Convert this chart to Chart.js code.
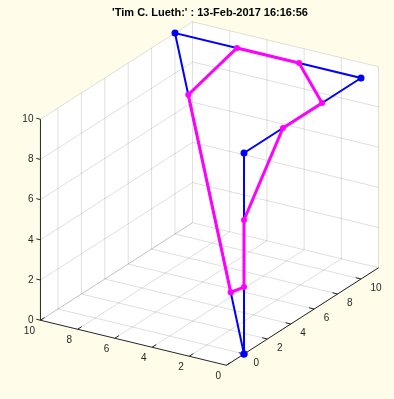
<!DOCTYPE html>
<html lang="en">
<head>
    <meta charset="UTF-8">
    <title>3D polyline</title>
    <script src="https://cdn.jsdelivr.net/npm/chart.js"></script>
    <style>
        body { margin: 0; background: #fffde9; }
        canvas { display: block; }
    </style>
</head>
<body>
    <canvas id="plot3d" width="394" height="399"></canvas>

    <script>
        // Data (3D points)
        const titleText = "'Tim C. Lueth:' : 13-Feb-2017 16:16:56";

        const blueX = [0, 0, 0, 10, 0];
        const blueY = [0, 0, 10, 10, 0];
        const blueZ = [0, 10, 10, 10, 0];

        const magentaX = [1.92, 0, 0, 0, 0, 3.33, 6.67, 8.08, 1.92];
        const magentaY = [1.92, 0, 0, 3.33, 6.67, 10, 10, 8.08, 1.92];
        const magentaZ = [1.92, 3.33, 6.67, 10, 10, 10, 10, 8.08, 1.92];

        const xTicks = [0, 2, 4, 6, 8, 10];
        const yTicks = [0, 2, 4, 6, 8, 10];
        const zTicks = [0, 2, 4, 6, 8, 10];

        const xLim = [0, 10];
        const yLim = [-1.5, 11.5];
        const zLim = [0, 10];

        // view: screen offset per data unit (px, up is positive)
        const ex = [-18.6, 4.5];
        const ey = [11.7, 7.5];
        const ez = [0, 20.1];

        function proj(x, y, z) {
            return {
                x: x * ex[0] + y * ey[0] + z * ez[0],
                y: x * ex[1] + y * ey[1] + z * ez[1]
            };
        }

        function path3(xs, ys, zs) {
            return xs.map((x, i) => proj(x, ys[i], zs[i]));
        }

        // join many segments into one dataset, null point breaks the line
        function segments(list) {
            const out = [];
            list.forEach(s => {
                out.push(proj(s[0], s[1], s[2]));
                out.push(proj(s[3], s[4], s[5]));
                out.push({ x: null, y: null });
            });
            return out;
        }

        const gridSegs = [];
        xTicks.forEach(t => {
            gridSegs.push([t, yLim[0], zLim[0], t, yLim[1], zLim[0]]);      // floor
            gridSegs.push([t, yLim[1], zLim[0], t, yLim[1], zLim[1]]);      // back right wall
        });
        yTicks.forEach(t => {
            gridSegs.push([xLim[0], t, zLim[0], xLim[1], t, zLim[0]]);      // floor
            gridSegs.push([xLim[1], t, zLim[0], xLim[1], t, zLim[1]]);      // back left wall
        });
        zTicks.forEach(t => {
            gridSegs.push([xLim[1], yLim[0], t, xLim[1], yLim[1], t]);      // left wall
            gridSegs.push([xLim[0], yLim[1], t, xLim[1], yLim[1], t]);      // right wall
        });

        const axisSegs = [
            [xLim[0], yLim[0], zLim[0], xLim[1], yLim[0], zLim[0]],
            [xLim[0], yLim[0], zLim[0], xLim[0], yLim[1], zLim[0]],
            [xLim[1], yLim[0], zLim[0], xLim[1], yLim[0], zLim[1]]
        ];
        xTicks.forEach(t => axisSegs.push([t, yLim[0], zLim[0], t, yLim[0] + 0.35, zLim[0]]));
        yTicks.forEach(t => axisSegs.push([xLim[0], t, zLim[0], xLim[0] + 0.28, t, zLim[0]]));
        zTicks.forEach(t => axisSegs.push([xLim[1], yLim[0], t, xLim[1] + 0.22, yLim[0], t]));

        const axisColor = '#262626';

        // white back planes + text
        const boxPlugin = {
            id: 'box3d',
            beforeDatasetsDraw(chart) {
                const c = chart.ctx, sx = chart.scales.x, sy = chart.scales.y;
                const corners = [
                    proj(xLim[0], yLim[0], zLim[0]), proj(xLim[1], yLim[0], zLim[0]),
                    proj(xLim[1], yLim[0], zLim[1]), proj(xLim[1], yLim[1], zLim[1]),
                    proj(xLim[0], yLim[1], zLim[1]), proj(xLim[0], yLim[1], zLim[0])
                ];
                c.save();
                c.fillStyle = '#ffffff';
                c.beginPath();
                corners.forEach((p, i) => {
                    const px = sx.getPixelForValue(p.x), py = sy.getPixelForValue(p.y);
                    if (i === 0) c.moveTo(px, py); else c.lineTo(px, py);
                });
                c.closePath();
                c.fill();
                c.restore();
            },
            afterDraw(chart) {
                const c = chart.ctx, sx = chart.scales.x, sy = chart.scales.y;
                const px = p => [sx.getPixelForValue(p.x), sy.getPixelForValue(p.y)];
                c.save();
                c.fillStyle = axisColor;
                c.font = '10px "Liberation Sans", Arial, sans-serif';
                c.textBaseline = 'middle';

                c.textAlign = 'right';
                xTicks.forEach(t => {
                    const [a, b] = px(proj(t, yLim[0], zLim[0]));
                    c.fillText(String(t), a - 5.5, b + 11);
                });
                zTicks.forEach(t => {
                    const [a, b] = px(proj(xLim[1], yLim[0], t));
                    c.fillText(String(t), a - 7, b);
                });
                c.textAlign = 'left';
                yTicks.forEach(t => {
                    const [a, b] = px(proj(xLim[0], t, zLim[0]));
                    c.fillText(String(t), a + 9.5, b + 9);
                });

                c.fillStyle = '#000000';
                c.textAlign = 'center';
                c.font = 'bold 11px "Liberation Sans", Arial, sans-serif';
                c.fillText(titleText, 210, 13);
                c.restore();
            }
        };

        const ctx = document.getElementById('plot3d').getContext('2d');

        new Chart(ctx, {
            type: 'scatter',
            data: {
                datasets: [
                    {
                        label: 'magenta',
                        data: path3(magentaX, magentaY, magentaZ),
                        showLine: true,
                        borderColor: '#ff00ff',
                        backgroundColor: '#ff00ff',
                        borderWidth: 3,
                        pointRadius: 3,
                        pointBorderWidth: 0,
                        order: 1
                    },
                    {
                        label: 'blue',
                        data: path3(blueX, blueY, blueZ),
                        showLine: true,
                        borderColor: '#0000ff',
                        backgroundColor: '#0000ff',
                        borderWidth: 2,
                        pointRadius: 3.5,
                        pointBorderWidth: 0,
                        order: 2
                    },
                    {
                        label: 'axes',
                        data: segments(axisSegs),
                        showLine: true,
                        spanGaps: false,
                        borderColor: axisColor,
                        borderWidth: 1,
                        pointRadius: 0,
                        order: 5
                    },
                    {
                        label: 'grid',
                        data: segments(gridSegs),
                        showLine: true,
                        spanGaps: false,
                        borderColor: 'rgba(38, 38, 38, 0.15)',
                        borderWidth: 1,
                        pointRadius: 0,
                        order: 10
                    }
                ]
            },
            options: {
                responsive: false,
                animation: false,
                layout: { padding: 0, autoPadding: false },
                scales: {
                    // 1 unit = 1 px, 3D origin lands at (244, 354)
                    x: { type: 'linear', display: false, min: -244, max: 150 },
                    y: { type: 'linear', display: false, min: -45, max: 354 }
                },
                plugins: {
                    legend: { display: false },
                    tooltip: { enabled: false }
                }
            },
            plugins: [boxPlugin]
        });
    </script>
</body>
</html>
